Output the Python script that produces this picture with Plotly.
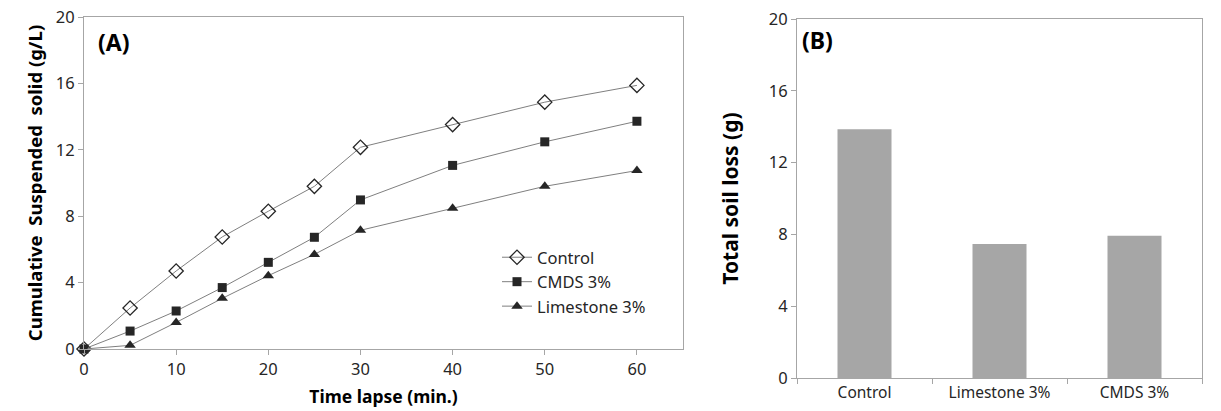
import plotly.graph_objects as go

# Panel A data
time_min = [0, 5, 10, 15, 20, 25, 30, 40, 50, 60]
control = [0, 2.47, 4.7, 6.75, 8.3, 9.8, 12.15, 13.52, 14.87, 15.88]
cmds = [0, 1.08, 2.29, 3.7, 5.22, 6.73, 8.98, 11.06, 12.48, 13.72]
limestone = [0, 0.22, 1.6, 3.05, 4.42, 5.7, 7.15, 8.48, 9.8, 10.75]

# Panel B data
categories = ["Control", "Limestone 3%", "CMDS 3%"]
soil_loss = [13.86, 7.46, 7.92]

FONT = "Noto Sans"
LINE = "#7f7f7f"
AXIS = "#a6a6a6"
DARK = "#262626"

fig = go.Figure()

fig.add_trace(go.Scatter(
    x=time_min, y=control, name="Control", mode="lines+markers", legendgroup="a",
    line=dict(color=LINE, width=1),
    marker=dict(symbol="diamond-open", size=11, color=DARK, line=dict(width=1.3, color=DARK)),
    cliponaxis=False, xaxis="x", yaxis="y"))
fig.add_trace(go.Scatter(
    x=time_min, y=cmds, name="CMDS 3%", mode="lines+markers", legendgroup="b",
    line=dict(color=LINE, width=1),
    marker=dict(symbol="square", size=9, color=DARK),
    cliponaxis=False, xaxis="x", yaxis="y"))
fig.add_trace(go.Scatter(
    x=time_min, y=limestone, name="Limestone 3%", mode="lines+markers", legendgroup="c",
    line=dict(color=LINE, width=1),
    marker=dict(symbol="triangle-up", size=10, color=DARK),
    cliponaxis=False, xaxis="x", yaxis="y"))

fig.add_trace(go.Bar(
    x=categories, y=soil_loss, marker=dict(color="#a6a6a6", line=dict(width=0)),
    showlegend=False, xaxis="x2", yaxis="y2"))

W, H = 1221, 411
OFF = 8  # page body margin

def fx(p):
    return (p - OFF) / W

def fy(p):
    return 1 - (p - OFF) / H

def px_x(a, b):
    return [fx(a), fx(b)]

def px_y(top, bottom):
    return [fy(bottom), fy(top)]

tickfont = dict(family=FONT, size=16.5, color=DARK)
titlefont = dict(family=FONT, size=17.5, color="#000000", weight="bold")

common = dict(showgrid=False, zeroline=False, showline=True, linecolor=AXIS, linewidth=1,
              mirror=True, ticks="outside", ticklen=5, tickcolor=AXIS,
              automargin=False, ticklabeloverflow="allow")

fig.update_layout(
    width=W, height=H,
    margin=dict(l=0, r=0, t=0, b=0, autoexpand=False),
    paper_bgcolor="white", plot_bgcolor="white",
    font=dict(family=FONT, color=DARK),
    bargap=0.6,
    xaxis=dict(domain=px_x(84, 683), range=[0, 65], tickvals=[0, 10, 20, 30, 40, 50, 60],
               tickfont=tickfont,
               title=dict(text="Time lapse (min.)", font=titlefont, standoff=11),
               anchor="y", **common),
    yaxis=dict(domain=px_y(17, 349), range=[0, 20], tickvals=[0, 4, 8, 12, 16, 20],
               tickfont=tickfont,
               title=dict(text="Cumulative  Suspended  solid (g/L)",
                          font=dict(family=FONT, size=18.5, color="#000000", weight="bold"), standoff=8),
               anchor="x", **common),
    xaxis2=dict(domain=px_x(797, 1202), tickson="boundaries",
                tickfont=dict(family=FONT, size=15.5, color=DARK),
                anchor="y2", **common),
    yaxis2=dict(domain=px_y(19, 378), range=[0, 20], tickvals=[0, 4, 8, 12, 16, 20],
                tickfont=tickfont,
                title=dict(text="Total soil loss (g)", font=dict(family=FONT, size=21, color="#000000", weight="bold"), standoff=24),
                anchor="x2", **common),
    legend=dict(x=fx(497), y=fy(240), xanchor="left", yanchor="top",
                bgcolor="rgba(0,0,0,0)", font=dict(family=FONT, size=16.5, color=DARK),
                itemwidth=30, tracegroupgap=13, traceorder="normal"),
    annotations=[
        dict(text="<b>(A)</b>", x=fx(96), y=fy(42), xref="paper", yref="paper",
             xanchor="left", yanchor="middle", showarrow=False,
             font=dict(family=FONT, size=23, color="#000000")),
        dict(text="<b>(B)</b>", x=fx(800), y=fy(40), xref="paper", yref="paper",
             xanchor="left", yanchor="middle", showarrow=False,
             font=dict(family=FONT, size=23, color="#000000")),
    ],
)

fig.write_html("out.html")
